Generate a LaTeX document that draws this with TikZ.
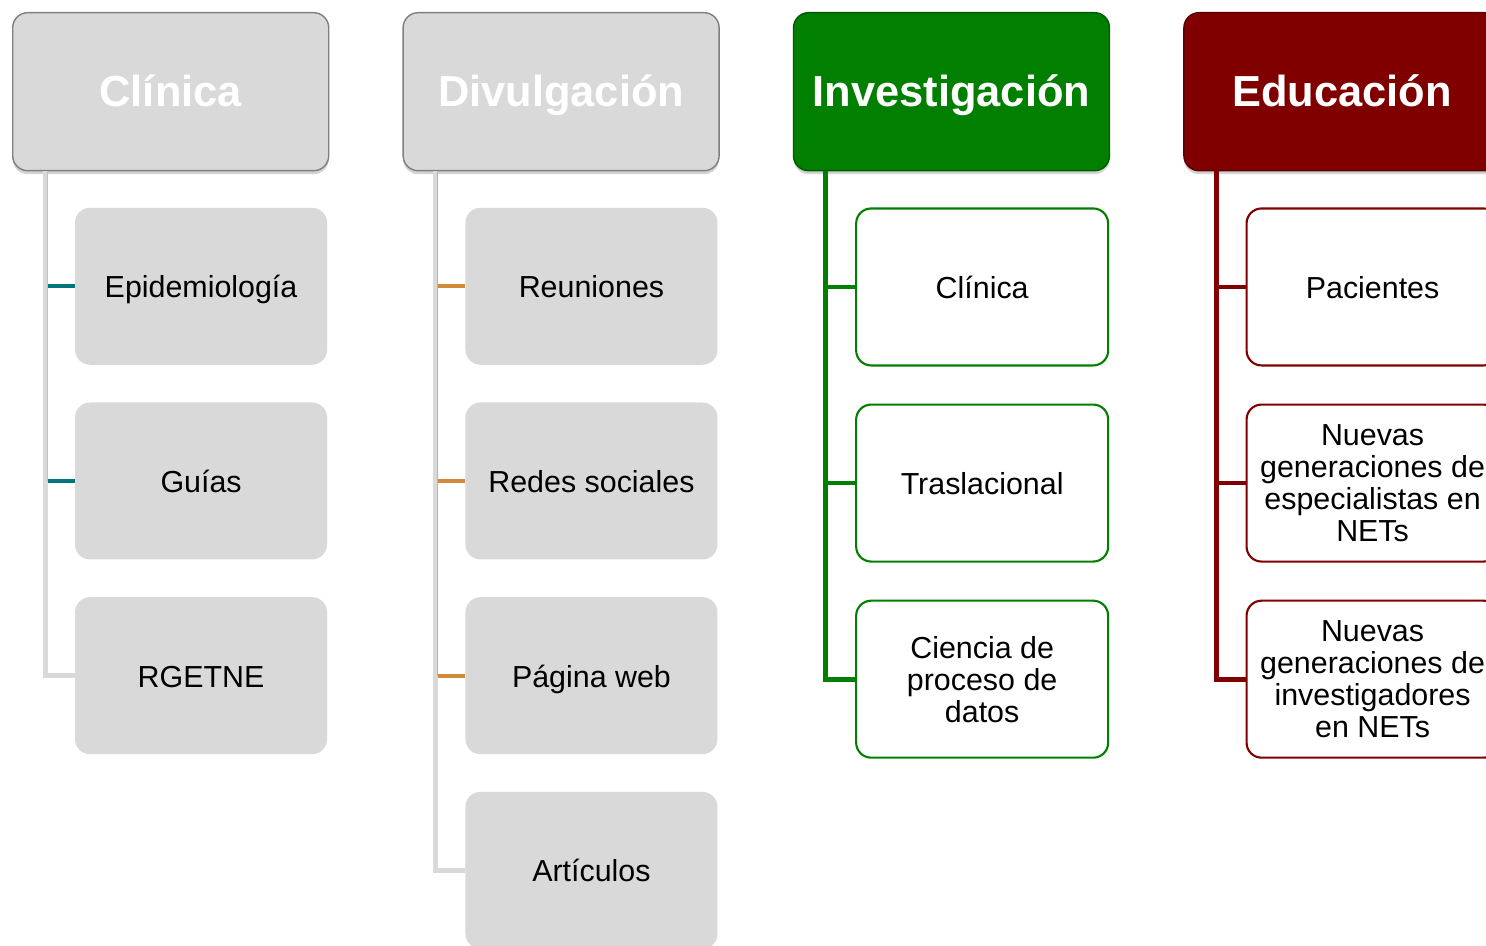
\documentclass[tikz,border=0pt]{standalone}
\usepackage{fontspec}
\setmainfont{Liberation Sans}
\usetikzlibrary{positioning,shadows}

\definecolor{gris}{HTML}{D9D9D9}
\definecolor{bordegris}{HTML}{7F7F7F}
\definecolor{verde}{HTML}{007F00}
\definecolor{bordeverde}{HTML}{005A00}
\definecolor{granate}{HTML}{800000}
\definecolor{bordegranate}{HTML}{5A0000}
\definecolor{azulverde}{HTML}{00757C}
\definecolor{naranja}{HTML}{D08A38}

\begin{document}
\begin{tikzpicture} [
    titulo/.style={rectangle, rounded corners=0.3cm, minimum width=6.32cm, minimum height=3.16cm, inner sep=0pt, text=white, line width=0.8pt, text height=0.8cm, text depth=0.2cm, font=\fontsize{24.7}{28}\selectfont\bfseries, drop shadow={opacity=0.35, shadow xshift=0pt, shadow yshift=-0.07cm}},
    tgris/.style={titulo, fill=gris, draw=bordegris},
    tverde/.style={titulo, fill=verde, draw=bordeverde},
    trojo/.style={titulo, fill=granate, draw=bordegranate},
    hoja/.style={rectangle, rounded corners=0.3cm, minimum width=5.04cm, minimum height=3.14cm, inner sep=0pt, align=center, font=\fontsize{17.3}{18.2}\selectfont},
    linea/.style={text height=0.56cm, text depth=0.1cm},
    hgris/.style={hoja, linea, fill=gris},
    hverde/.style={hoja, fill=white, draw=verde, line width=1.2pt},
    hrojo/.style={hoja, fill=white, draw=granate, line width=1.2pt},
    tronco/.style={line width=0.1cm},
    rama/.style={line width=0.08cm},
    fino/.style={line width=0.6pt},
    node distance=0.74cm
    ]
    \clip (0,0) rectangle (29.72,-18.92);

    %Titulos
    \node[tgris, anchor=north west] (clin) at (0.24,-0.24) {Clínica};
    \node[tgris]     (divu)  [right=1.46cm of clin] {Divulgación};
    \node[tverde]    (inve)  [right=1.46cm of divu] {Investigación};
    \node[trojo]     (educ)  [right=1.46cm of inve] {Educación};

    %Hojas
    \node[hgris]     (epid)  [below left=0.72cm and 0.04cm of clin.south east] {Epidemiología};
    \node[hgris]     (guia)  [below=of epid] {Guías};
    \node[hgris]     (rget)  [below=of guia] {RGETNE};

    \node[hgris]     (reun)  [below left=0.72cm and 0.04cm of divu.south east] {Reuniones};
    \node[hgris]     (rede)  [below=of reun] {Redes sociales};
    \node[hgris]     (pagi)  [below=of rede] {Página web};
    \node[hgris]     (arti)  [below=of pagi] {Artículos};

    \node[hverde, linea] (iclin) [below left=0.72cm and 0.02cm of inve.south east] {Clínica};
    \node[hverde, linea] (tras)  [below=of iclin] {Traslacional};
    \node[hverde]    (cien)  [below=of tras] {Ciencia de\\proceso de\\datos};

    \node[hrojo, linea] (paci)  [below left=0.72cm and 0.02cm of educ.south east] {Pacientes};
    \node[hrojo]     (espe)  [below=of paci] {Nuevas\\generaciones de\\especialistas en\\NETs};
    \node[hrojo]     (inv2)  [below=of espe] {Nuevas\\generaciones de\\investigadores\\en NETs};

    %Troncos
    \coordinate[xshift=0.66cm] (tclin) at (clin.south west);
    \coordinate[xshift=0.66cm] (tdivu) at (divu.south west);
    \coordinate[xshift=0.66cm] (tinve) at (inve.south west);
    \coordinate[xshift=0.66cm] (teduc) at (educ.south west);

    %Lineas
    \draw[rama, azulverde] (epid.west) -- (epid.west -| tclin);
    \draw[rama, azulverde] (guia.west) -- (guia.west -| tclin);
    \draw[tronco, gris] (tclin) |- (rget.west);
    \draw[fino, azulverde!35] ([xshift=0.045cm]tclin) -- ([xshift=0.045cm]guia.west -| tclin);

    \draw[rama, naranja] (reun.west) -- (reun.west -| tdivu);
    \draw[rama, naranja] (rede.west) -- (rede.west -| tdivu);
    \draw[rama, naranja] (pagi.west) -- (pagi.west -| tdivu);
    \draw[tronco, gris] (tdivu) |- (arti.west);
    \draw[fino, naranja!70] ([xshift=0.045cm]tdivu) -- ([xshift=0.045cm]pagi.west -| tdivu);

    \draw[rama, verde] (iclin.west) -- (iclin.west -| tinve);
    \draw[rama, verde] (tras.west) -- (tras.west -| tinve);
    \draw[tronco, verde] (tinve) |- (cien.west);

    \draw[rama, granate] (paci.west) -- (paci.west -| teduc);
    \draw[rama, granate] (espe.west) -- (espe.west -| teduc);
    \draw[tronco, granate] (teduc) |- (inv2.west);
\end{tikzpicture}
\end{document}
